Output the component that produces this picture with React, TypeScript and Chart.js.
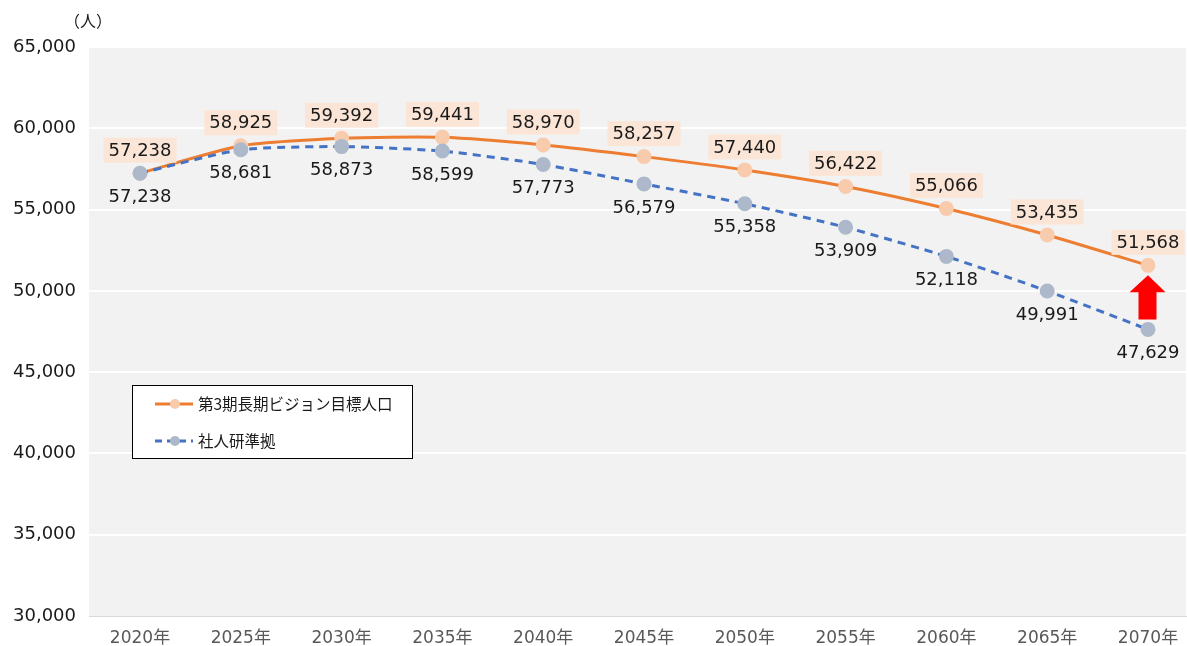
import React, { useEffect, useRef } from "react";
import { Chart, registerables } from "chart.js";

Chart.register(...registerables);

const categories = ["2020年", "2025年", "2030年", "2035年", "2040年", "2045年", "2050年", "2055年", "2060年", "2065年", "2070年"];
const visionTarget = [57238, 58925, 59392, 59441, 58970, 58257, 57440, 56422, 55066, 53435, 51568];
const ipssBased = [57238, 58681, 58873, 58599, 57773, 56579, 55358, 53909, 52118, 49991, 47629];
const seriesNames = ["第3期長期ビジョン目標人口", "社人研準拠"];
const unitLabel = "（人）";

const FONT = "'DejaVu Sans', 'Noto Sans CJK JP', sans-serif";
const CJK = "'Noto Sans CJK JP', sans-serif";
const ORANGE = "#ed7d31";
const PEACH = "#f8cbad";
const BLUE = "#4472c4";
const GRAYPT = "#adb9ca";

const fmt = (v: number) => v.toLocaleString("en-US");

const decorPlugin = {
  id: "decor",
  beforeDraw(chart: any) {
    const { ctx, chartArea } = chart;
    ctx.save();
    ctx.fillStyle = "#f2f2f2";
    ctx.fillRect(chartArea.left, chartArea.top, chartArea.right - chartArea.left, chartArea.bottom - chartArea.top);
    ctx.restore();
  },
  afterDatasetsDraw(chart: any) {
    const { ctx } = chart;
    const xs = chart.scales.x;
    const ys = chart.scales.y;
    ctx.save();
    ctx.font = `18px ${FONT}`;
    ctx.textAlign = "center";
    ctx.textBaseline = "middle";
    visionTarget.forEach((v, i) => {
      const x = xs.getPixelForValue(i);
      const y = ys.getPixelForValue(v) - 23;
      const t = fmt(v);
      const w = ctx.measureText(t).width + 10;
      ctx.fillStyle = "#fbe5d6";
      ctx.fillRect(x - w / 2, y - 12.5, w, 25);
      ctx.fillStyle = "#1a1a1a";
      ctx.fillText(t, x, y + 1);
    });
    ipssBased.forEach((v, i) => {
      const x = xs.getPixelForValue(i);
      const y = ys.getPixelForValue(v) + 24;
      ctx.fillStyle = "#1a1a1a";
      ctx.fillText(fmt(v), x, y);
    });
    const last = categories.length - 1;
    const ax = xs.getPixelForValue(last);
    const top = ys.getPixelForValue(visionTarget[last]) + 10;
    const bottom = ys.getPixelForValue(ipssBased[last]) - 10;
    const headBase = top + 17;
    ctx.fillStyle = "#ff0000";
    ctx.beginPath();
    ctx.moveTo(ax, top);
    ctx.lineTo(ax + 17.5, headBase);
    ctx.lineTo(ax + 8.5, headBase);
    ctx.lineTo(ax + 8.5, bottom);
    ctx.lineTo(ax - 9.5, bottom);
    ctx.lineTo(ax - 9.5, headBase);
    ctx.lineTo(ax - 18.5, headBase);
    ctx.closePath();
    ctx.fill();

    ctx.font = `16px ${CJK}`;
    ctx.fillStyle = "#1a1a1a";
    ctx.textAlign = "center";
    ctx.fillText(unitLabel, 88, 21);

    const lx = 132.5, ly = 385.5, lw = 280, lh = 73;
    ctx.fillStyle = "#ffffff";
    ctx.fillRect(lx, ly, lw, lh);
    ctx.strokeStyle = "#000000";
    ctx.lineWidth = 1;
    ctx.strokeRect(lx, ly, lw, lh);
    const rows = [
      { y: 404, color: ORANGE, pt: PEACH, dash: [] as number[] },
      { y: 441, color: BLUE, pt: GRAYPT, dash: [7, 5] },
    ];
    rows.forEach((r, k) => {
      ctx.strokeStyle = r.color;
      ctx.lineWidth = 3;
      ctx.setLineDash(r.dash);
      ctx.beginPath();
      ctx.moveTo(155, r.y);
      ctx.lineTo(193, r.y);
      ctx.stroke();
      ctx.setLineDash([]);
      ctx.fillStyle = r.pt;
      ctx.beginPath();
      ctx.arc(175, r.y, 5, 0, Math.PI * 2);
      ctx.fill();
      ctx.fillStyle = "#1a1a1a";
      ctx.font = `15.5px ${CJK}`;
      ctx.textAlign = "left";
      ctx.fillText(seriesNames[k], 198, r.y);
    });
    ctx.restore();
  },
};

export default function App() {
  const ref = useRef<HTMLCanvasElement | null>(null);
  useEffect(() => {
    if (!ref.current) return;
    const chart = new Chart(ref.current, {
      type: "line",
      data: {
        datasets: [
          {
            label: seriesNames[1],
            data: ipssBased.map((v, i) => ({ x: i, y: v })),
            borderColor: BLUE,
            borderWidth: 3,
            borderDash: [8, 6],
            pointBackgroundColor: GRAYPT,
            pointBorderColor: GRAYPT,
            pointRadius: 6,
            tension: 0.2,
          },
          {
            label: seriesNames[0],
            data: visionTarget.map((v, i) => ({ x: i, y: v })),
            borderColor: ORANGE,
            borderWidth: 3,
            pointBackgroundColor: PEACH,
            pointBorderColor: PEACH,
            pointRadius: 6,
            tension: 0.2,
          },
        ],
      },
      options: {
        animation: false,
        responsive: false,
        maintainAspectRatio: false,
        layout: { autoPadding: false, padding: { top: 47, right: 1, left: 0, bottom: 0 } },
        plugins: { legend: { display: false }, tooltip: { enabled: false } },
        scales: {
          x: {
            type: "linear",
            min: -0.506,
            max: 10.377,
            afterBuildTicks: (scale: any) => {
              scale.ticks = categories.map((_, i) => ({ value: i }));
            },
            afterFit: (scale: any) => {
              scale.height = 30;
              scale.paddingLeft = 0;
              scale.paddingRight = 0;
            },
            grid: { display: false },
            border: { display: true, color: "#d9d9d9", width: 1 },
            ticks: {
              autoSkip: false,
              maxRotation: 0,
              padding: 4,
              color: "#595959",
              font: { family: FONT, size: 17 },
              callback: (v: any) => categories[Math.round(Number(v))] ?? "",
            },
          },
          y: {
            min: 30000,
            max: 65000,
            afterFit: (scale: any) => {
              scale.width = 89;
            },
            grid: {
              color: (c: any) => (c.tick && c.tick.value === 30000 ? "rgba(0,0,0,0)" : "#ffffff"),
              lineWidth: 2,
              drawTicks: false,
            },
            border: { display: false },
            ticks: {
              stepSize: 5000,
              padding: 13,
              color: "#1a1a1a",
              font: { family: FONT, size: 18 },
              callback: (v: any) => fmt(Number(v)),
            },
          },
        },
      },
      plugins: [decorPlugin],
    });
    return () => chart.destroy();
  }, []);
  return (
    <div style={{ position: "absolute", left: 0, top: 0, width: 1187, height: 646, background: "#fff" }}>
      <canvas ref={ref} width={1187} height={646} style={{ width: 1187, height: 646 }} />
    </div>
  );
}
